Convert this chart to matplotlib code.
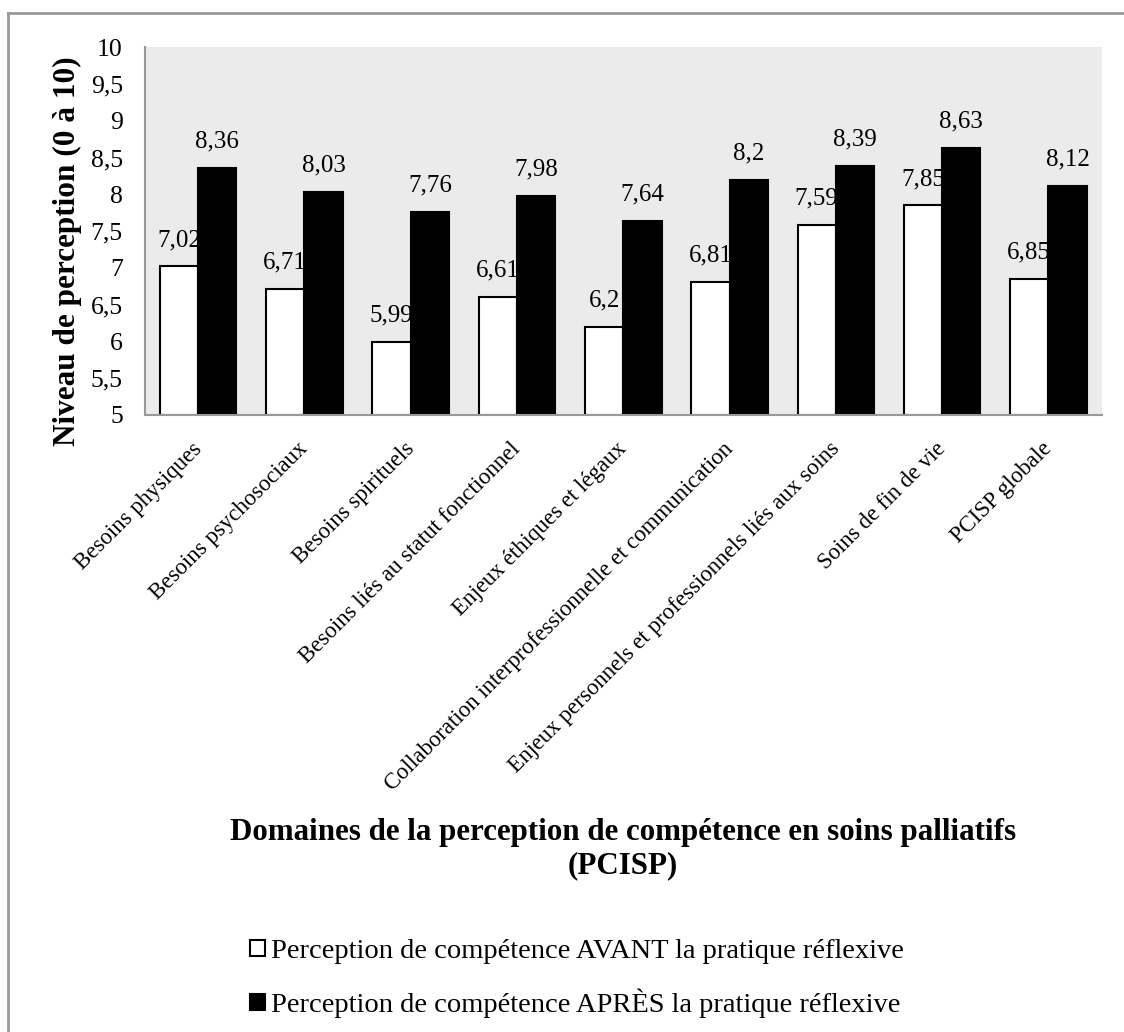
import matplotlib
matplotlib.use("Agg")
import matplotlib.pyplot as plt
import matplotlib.transforms as mtransforms
import numpy as np
from matplotlib.patches import Patch
from matplotlib.lines import Line2D

# Donnees du graphique
domaines = ['Besoins physiques', 'Besoins psychosociaux', 'Besoins spirituels',
            'Besoins liés au statut fonctionnel', 'Enjeux éthiques et légaux',
            'Collaboration interprofessionnelle et communication',
            'Enjeux personnels et professionnels liés aux soins',
            'Soins de fin de vie', 'PCISP globale']
avant = [7.02, 6.71, 5.99, 6.61, 6.2, 6.81, 7.59, 7.85, 6.85]
apres = [8.36, 8.03, 7.76, 7.98, 7.64, 8.2, 8.39, 8.63, 8.12]
yticks = [5, 5.5, 6, 6.5, 7, 7.5, 8, 8.5, 9, 9.5, 10]

plt.rcParams['font.family'] = ['Liberation Serif', 'DejaVu Serif']

def fr(v):
    return f"{v:g}".replace('.', ',')

fig = plt.figure(figsize=(11.24, 10.32), dpi=100)
ax = fig.add_axes([0.129, 0.598, 0.851, 0.356])
ax.set_facecolor('#ebebeb')

x = np.arange(len(domaines))
w = 0.36
b1 = ax.bar(x - w/2, [v - 5 for v in avant], w, bottom=5, color='white', edgecolor='black', linewidth=1.5,
            label='Perception de compétence AVANT la pratique réflexive')
b2 = ax.bar(x + w/2, [v - 5 for v in apres], w, bottom=5, color='black', edgecolor='black', linewidth=1.5,
            label='Perception de compétence APRÈS la pratique réflexive')

for xi, v in zip(x - w/2, avant):
    ax.annotate(fr(v), (xi, v), xytext=(0, 11), textcoords='offset points', ha='center', va='bottom', fontsize=18)
for xi, v in zip(x + w/2, apres):
    ax.annotate(fr(v), (xi, v), xytext=(0, 11), textcoords='offset points', ha='center', va='bottom', fontsize=18)

ax.set_xlim(-0.5, len(domaines) - 0.5)
ax.set_ylim(5, 10)
ax.set_yticks(yticks)
ax.set_yticklabels([fr(t) for t in yticks], fontsize=18.5)
ax.set_xticks(x)
ax.set_xticklabels(domaines, rotation=45, ha='right', fontsize=16.5)
ax.tick_params(axis='y', length=0, pad=16)
ax.tick_params(axis='x', length=0, pad=17)
shift = mtransforms.ScaledTranslation(8/100, 0, fig.dpi_scale_trans)
for lab in ax.get_xticklabels():
    lab.set_transform(lab.get_transform() + shift)
for s in ['top', 'right']:
    ax.spines[s].set_visible(False)
ax.spines['left'].set_color('#999999')
ax.spines['bottom'].set_color('#999999')
ax.spines['left'].set_linewidth(1.5)
ax.spines['bottom'].set_linewidth(1.5)

ax.set_ylabel('Niveau de perception (0 à 10)', fontsize=22.5, fontweight='bold')
ax.yaxis.set_label_coords(-0.066, 0.446)

fig.text(0.554, 0.177, 'Domaines de la perception de compétence en soins palliatifs\n(PCISP)',
         ha='center', va='center', fontsize=22.3, fontweight='bold', linespacing=1.2)

fig.legend(handles=[Patch(facecolor='white', edgecolor='black', linewidth=1.5),
                    Patch(facecolor='black', edgecolor='black', linewidth=1.5)],
           labels=[b1.get_label(), b2.get_label()], loc='upper left', bbox_to_anchor=(0.2224, 0.090),
           frameon=False, fontsize=20.5, handlelength=0.53, handleheight=0.53, handletextpad=0.2,
           labelspacing=0.86, borderpad=0, borderaxespad=0)

# cadre du graphique (bord haut et gauche visibles)
fig.add_artist(Line2D([8/1124, 1], [1 - 12.5/1032, 1 - 12.5/1032], transform=fig.transFigure,
                      color='#999999', linewidth=2))
fig.add_artist(Line2D([8/1124, 8/1124], [0, 1 - 12.5/1032], transform=fig.transFigure,
                      color='#999999', linewidth=2))

fig.savefig('out.png', dpi=100)
